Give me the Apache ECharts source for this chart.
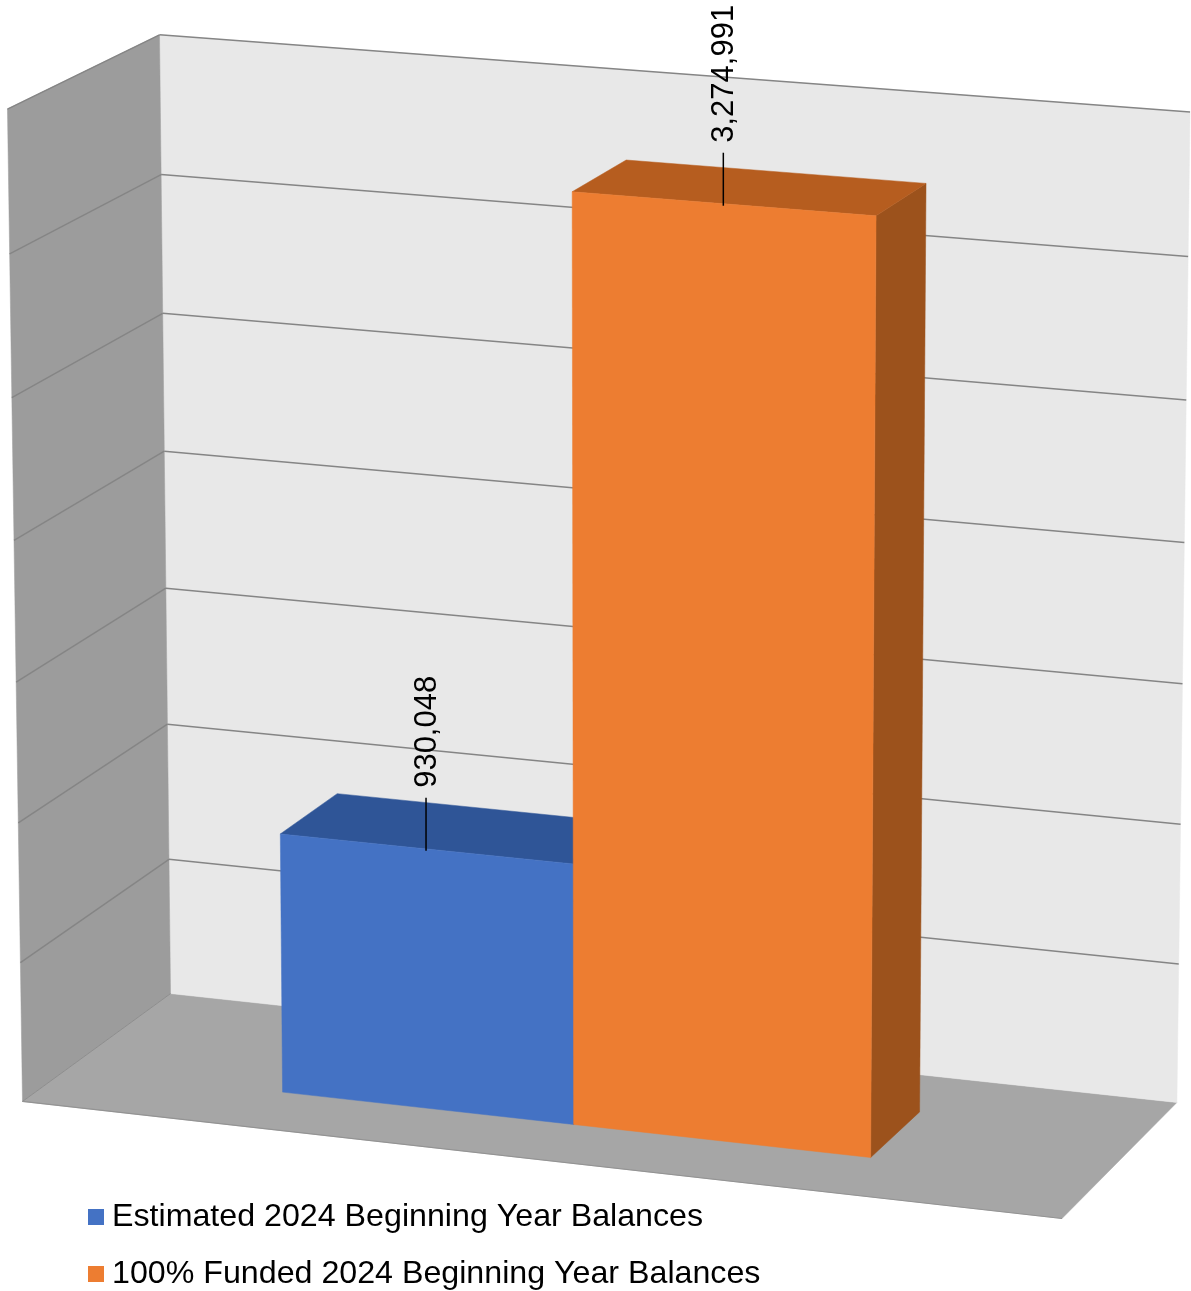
<!DOCTYPE html>
<html>
<head>
<meta charset="utf-8">
<script src="https://cdn.jsdelivr.net/npm/echarts@6/dist/echarts.min.js"></script>
<style>
html,body{margin:0;padding:0;background:#ffffff;}
#chart{width:1191px;height:1291px;}
</style>
</head>
<body>
<div id="chart"></div>
<script>
// ---------------- DATA ----------------
const categories = [''];
const seriesNames = ['Estimated 2024 Beginning Year Balances', '100% Funded 2024 Beginning Year Balances'];
const estimatedValues = [930048];
const fundedValues = [3274991];
const valueTicks = [0, 500000, 1000000, 1500000, 2000000, 2500000, 3000000, 3500000];

// ---------------- STYLE / LAYOUT ----------------
const yMax = 3500000;
const yInterval = 500000;
const gapWidth = 1.5;          // Excel gap width 150%
const depthFront = 0.7, depthBack = 0.3;  // bar depth (gap depth 150%)
const palette = [
  {front: '#4472C4', top: '#2F5597', side: '#2B4F8C'},
  {front: '#ED7D31', top: '#B65D1F', side: '#9C521C'}
];
const wallColors = {back: '#E8E8E8', left: '#9C9C9C', floor: '#A6A6A6', grid: '#858585'};

// 3-D box frame corners on the page: [X, Y, Z, px, py]
const frameAnchors = [
  [0, 0, 0, 170, 993], [1, 0, 0, 1177, 1103], [0, 1, 0, 160, 35], [1, 1, 0, 1190, 112],
  [0, 0, 1, 23, 1102], [1, 0, 1, 1062, 1218], [0, 1, 1, 7, 109]
];

// ---------------- PERSPECTIVE CAMERA (DLT least squares) ----------------
function solveCamera(pts) {
  const A = [], b = [];
  pts.forEach(([X, Y, Z, u, v]) => {
    A.push([X, Y, Z, 1, 0, 0, 0, 0, -u * X, -u * Y, -u * Z]); b.push(u);
    A.push([0, 0, 0, 0, X, Y, Z, 1, -v * X, -v * Y, -v * Z]); b.push(v);
  });
  const n = 11;
  const M = [];
  for (let i = 0; i < n; i++) {
    const row = [];
    for (let j = 0; j < n; j++) {
      let s = 0;
      for (let k = 0; k < A.length; k++) s += A[k][i] * A[k][j];
      row.push(s);
    }
    let r = 0;
    for (let k = 0; k < A.length; k++) r += A[k][i] * b[k];
    row.push(r);
    M.push(row);
  }
  for (let c = 0; c < n; c++) {
    let p = c;
    for (let r = c + 1; r < n; r++) if (Math.abs(M[r][c]) > Math.abs(M[p][c])) p = r;
    const t = M[c]; M[c] = M[p]; M[p] = t;
    for (let r = 0; r < n; r++) {
      if (r === c) continue;
      const f = M[r][c] / M[c][c];
      for (let k = c; k <= n; k++) M[r][k] -= f * M[c][k];
    }
  }
  return M.map((row, i) => row[n] / row[i]);
}
const P = solveCamera(frameAnchors);
function proj(X, Y, Z) {
  const w = P[8] * X + P[9] * Y + P[10] * Z + 1;
  return [(P[0] * X + P[1] * Y + P[2] * Z + P[3]) / w, (P[4] * X + P[5] * Y + P[6] * Z + P[7]) / w];
}

function valueToNorm(api, v) {
  const b = api.coord([0, 0])[1];
  const t = api.coord([0, yMax])[1];
  return (b - api.coord([0, v])[1]) / (b - t);
}

function poly(points, fill) {
  return {type: 'polygon', shape: {points: points}, style: {fill: fill, stroke: fill, lineWidth: 0.5}};
}
function line(a, c, color, w) {
  return {type: 'line', shape: {x1: a[0], y1: a[1], x2: c[0], y2: c[1]}, style: {stroke: color, lineWidth: w}};
}

function renderWalls(params, api) {
  const children = [];
  children.push(poly([proj(0, 0, 0), proj(1, 0, 0), proj(1, 0, 1), proj(0, 0, 1)], wallColors.floor));
  children.push(poly([proj(0, 0, 0), proj(1, 0, 0), proj(1, 1, 0), proj(0, 1, 0)], wallColors.back));
  children.push(poly([proj(0, 0, 0), proj(0, 0, 1), proj(0, 1, 1), proj(0, 1, 0)], wallColors.left));
  valueTicks.forEach(t => {
    if (t === 0) return;
    const y = valueToNorm(api, t);
    children.push(line(proj(0, y, 0), proj(1, y, 0), wallColors.grid, 1.5));
    children.push(line(proj(0, y, 0), proj(0, y, 1), wallColors.grid, 1.5));
  });
  children.push(line(proj(0, 0, 0), proj(0, 0, 1), '#8E8E8E', 1));
  children.push(line(proj(0, 0, 1), proj(1, 0, 1), '#939393', 1.2));
  return {type: 'group', children: children};
}

function makeBarRenderer(seriesIdx, nSeries) {
  return function (params, api) {
    const cat = api.value(0), val = api.value(1);
    const Y = valueToNorm(api, val);
    const bandW = api.size([1, 0])[0];
    const gridStart = api.coord([0, 0])[0] - bandW / 2;
    const totalW = bandW * categories.length;
    const barFrac = 1 / (nSeries + gapWidth);
    const startFrac = (gapWidth / 2) * barFrac + seriesIdx * barFrac;
    const bandStart = api.coord([cat, 0])[0] - bandW / 2;
    const X0 = (bandStart - gridStart + startFrac * bandW) / totalW;
    const X1 = X0 + barFrac * bandW / totalW;
    const zf = depthFront, zb = depthBack;
    const c = palette[seriesIdx];
    const children = [];
    children.push(poly([proj(X1, 0, zf), proj(X1, 0, zb), proj(X1, Y, zb), proj(X1, Y, zf)], c.side));
    children.push(poly([proj(X0, Y, zf), proj(X1, Y, zf), proj(X1, Y, zb), proj(X0, Y, zb)], c.top));
    children.push(poly([proj(X0, 0, zf), proj(X1, 0, zf), proj(X1, Y, zf), proj(X0, Y, zf)], c.front));
    // data label with leader line
    const anchor = proj((X0 + X1) / 2, Y, zf);
    const leaderLen = 51;
    children.push(line([anchor[0], anchor[1] + 2], [anchor[0], anchor[1] - leaderLen], '#000000', 1.5));
    children.push({
      type: 'text',
      x: anchor[0] + 1, y: anchor[1] - leaderLen - 10,
      rotation: Math.PI / 2,
      style: {
        text: val.toLocaleString('en-US'),
        fill: '#000000',
        font: '31px "Liberation Sans", Arial, sans-serif',
        align: 'left', verticalAlign: 'middle'
      }
    });
    return {type: 'group', children: children};
  };
}

const chart = echarts.init(document.getElementById('chart'), null, {renderer: 'canvas'});
const barData = [estimatedValues, fundedValues];
chart.setOption({
  animation: false,
  backgroundColor: '#ffffff',
  grid: {left: 0, top: 0, width: 1000, height: 1000, show: false},
  xAxis: {type: 'category', data: categories, show: false},
  yAxis: {type: 'value', min: 0, max: yMax, interval: yInterval, show: false},
  legend: {
    orient: 'vertical', left: 88, top: 1200, padding: 0,
    itemWidth: 16, itemHeight: 16, itemGap: 23, icon: 'rect',
    data: seriesNames,
    textStyle: {fontSize: 32.2, lineHeight: 34, color: '#000000', fontFamily: '"Liberation Sans", Arial, sans-serif', padding: [0, 0, 0, 3]},
    selectedMode: false
  },
  series: [
    {type: 'custom', name: '__walls', z: 1, clip: false, silent: true, data: [[0, 0]], renderItem: renderWalls}
  ].concat(seriesNames.map((name, i) => ({
    type: 'custom', name: name, z: 2 + i, clip: false,
    itemStyle: {color: palette[i].front},
    data: barData[i].map((v, k) => [k, v]),
    renderItem: makeBarRenderer(i, seriesNames.length)
  })))
});
</script>
</body>
</html>
